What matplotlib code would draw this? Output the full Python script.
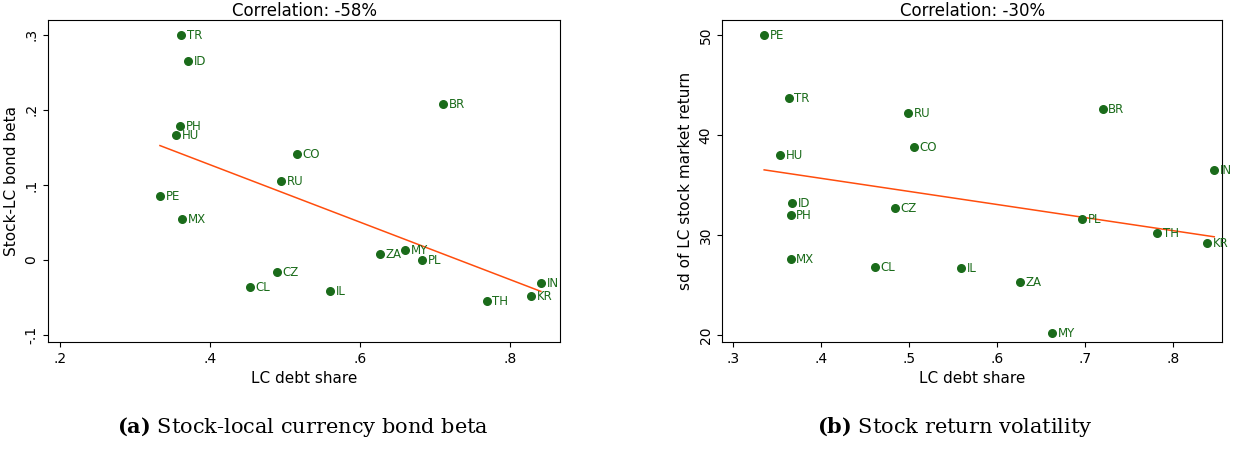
import numpy as np
import matplotlib.pyplot as plt

plt.rcParams["mathtext.fontset"] = "dejavuserif"

# Panel (a): stock-LC bond beta vs LC debt share
codes_a = ["TR", "ID", "BR", "PH", "HU", "CO", "RU", "PE", "MX", "MY", "ZA", "PL",
           "CZ", "CL", "IL", "TH", "KR", "IN"]
share_a = [0.361, 0.371, 0.711, 0.360, 0.355, 0.516, 0.495, 0.333, 0.363, 0.660, 0.627,
           0.683, 0.489, 0.453, 0.560, 0.769, 0.828, 0.841]
beta_a = [0.300, 0.265, 0.208, 0.179, 0.167, 0.141, 0.105, 0.085, 0.055, 0.013, 0.008,
          0.000, -0.016, -0.036, -0.041, -0.055, -0.048, -0.031]

# Panel (b): sd of LC stock market return vs LC debt share
codes_b = ["PE", "TR", "RU", "BR", "CO", "HU", "IN", "ID", "PH", "CZ", "PL", "TH",
           "KR", "MX", "CL", "IL", "ZA", "MY"]
share_b = [0.335, 0.363, 0.499, 0.720, 0.505, 0.353, 0.847, 0.367, 0.365, 0.484, 0.697,
           0.782, 0.839, 0.365, 0.461, 0.559, 0.626, 0.663]
vol_b = [50.0, 43.7, 42.2, 42.6, 38.8, 38.0, 36.5, 33.2, 32.0, 32.7, 31.6, 30.2,
         29.2, 27.6, 26.8, 26.7, 25.3, 20.2]

GREEN = "#1a6b1a"
ORANGE = "#ff4d0d"

fig = plt.figure(figsize=(12.37, 4.51), dpi=100)
ax1 = fig.add_axes([0.039, 0.242, 0.414, 0.714])
ax2 = fig.add_axes([0.584, 0.242, 0.404, 0.714])


def panel(ax, x, y, codes, title, ylabel, xticks, xlabels, yticks, ylabels, xlim, ylim):
    x = np.array(x)
    y = np.array(y)
    ax.scatter(x, y, s=30, color=GREEN, zorder=3)
    for xi, yi, c in zip(x, y, codes):
        ax.annotate(c, (xi, yi), xytext=(4, -3), textcoords="offset points",
                    fontsize=8.5, color=GREEN)
    b, a = np.polyfit(x, y, 1)
    xs = np.array([x.min(), x.max()])
    ax.plot(xs, a + b * xs, color=ORANGE, lw=1.1, zorder=2)
    ax.set_xlim(xlim)
    ax.set_ylim(ylim)
    ax.set_xticks(xticks)
    ax.set_xticklabels(xlabels)
    ax.set_yticks(yticks)
    ax.set_yticklabels(ylabels, rotation=90, va="center")
    ax.tick_params(labelsize=10)
    ax.set_xlabel("LC debt share", fontsize=11)
    ax.set_ylabel(ylabel, fontsize=11)
    ax.set_title(title, fontsize=12, pad=2)
    for sp in ax.spines.values():
        sp.set_linewidth(0.8)


panel(ax1, share_a, beta_a, codes_a, "Correlation: -58%", "Stock-LC bond beta",
      [0.2, 0.4, 0.6, 0.8], [".2", ".4", ".6", ".8"],
      [-0.1, 0, 0.1, 0.2, 0.3], ["-.1", "0", ".1", ".2", ".3"],
      (0.184, 0.867), (-0.109, 0.32))
panel(ax2, share_b, vol_b, codes_b, "Correlation: -30%", "sd of LC stock market return",
      [0.3, 0.4, 0.5, 0.6, 0.7, 0.8], [".3", ".4", ".5", ".6", ".7", ".8"],
      [20, 30, 40, 50], ["20", "30", "40", "50"],
      (0.2875, 0.856), (19.3, 51.5))

fig.text(0.245, 0.04, r"$\mathbf{(a)}$ Stock-local currency bond beta", ha="center",
         fontsize=15, family="DejaVu Serif")
fig.text(0.772, 0.04, r"$\mathbf{(b)}$ Stock return volatility", ha="center",
         fontsize=15, family="DejaVu Serif")

fig.savefig("out.png")
